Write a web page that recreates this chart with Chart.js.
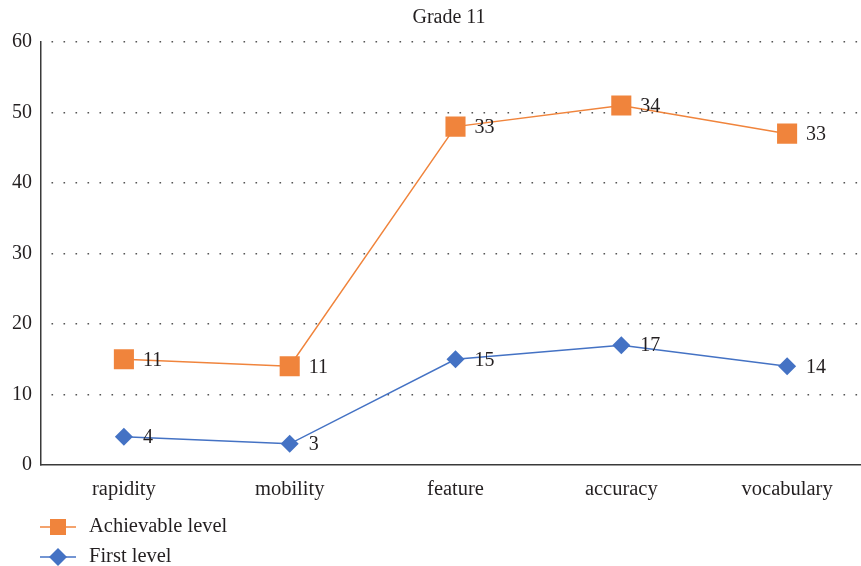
<!DOCTYPE html>
<html>
<head>
<meta charset="utf-8">
<script src="https://cdn.jsdelivr.net/npm/chart.js@4.4.1/dist/chart.umd.min.js"></script>
<style>
  html, body { margin: 0; padding: 0; background: #fff; overflow: hidden; }
  #wrap { width: 900px; height: 566px; position: relative; }
</style>
</head>
<body>
<div id="wrap"><canvas id="chart"></canvas></div>
<script>
// Grade 11 — skill scores per level (stacked line chart)
const chartTitle = 'Grade 11';
const categories = ['rapidity', 'mobility', 'feature', 'accuracy', 'vocabulary'];
const firstLevel = [4, 3, 15, 17, 14];
const achievableLevel = [11, 11, 33, 34, 33];
const yTicks = [0, 10, 20, 30, 40, 50, 60];

const ORANGE = '#F0843C';
const BLUE = '#4472C4';
const TEXT = '#231F20';
const FONT = '"Liberation Serif", "DejaVu Serif", serif';

// Value labels to the right of each marker
const valueLabels = {
  id: 'valueLabels',
  afterDatasetsDraw(chart) {
    const ctx = chart.ctx;
    ctx.save();
    ctx.font = '20px ' + FONT;
    ctx.fillStyle = TEXT;
    ctx.textAlign = 'left';
    ctx.textBaseline = 'middle';
    chart.data.datasets.forEach((ds, i) => {
      const meta = chart.getDatasetMeta(i);
      meta.data.forEach((pt, j) => {
        ctx.fillText(String(ds.data[j]), pt.x + 19, pt.y + 1);
      });
    });
    ctx.restore();
  }
};

// Title and vertical legend at the bottom-left
const decorations = {
  id: 'decorations',
  afterDraw(chart) {
    const ctx = chart.ctx;
    ctx.save();
    ctx.fillStyle = TEXT;
    ctx.font = '20px ' + FONT;
    ctx.textAlign = 'center';
    ctx.textBaseline = 'middle';
    ctx.fillText(chartTitle, 449, 18);

    const rows = [
      { label: 'Achievable level', color: ORANGE, shape: 'square', y: 527 },
      { label: 'First level', color: BLUE, shape: 'diamond', y: 557 }
    ];
    rows.forEach(r => {
      ctx.strokeStyle = r.color;
      ctx.lineWidth = 1.5;
      ctx.beginPath();
      ctx.moveTo(40, r.y);
      ctx.lineTo(76, r.y);
      ctx.stroke();
      ctx.fillStyle = r.color;
      ctx.beginPath();
      if (r.shape === 'square') {
        ctx.rect(50, r.y - 8, 16, 16);
      } else {
        ctx.moveTo(58, r.y - 9);
        ctx.lineTo(67, r.y);
        ctx.lineTo(58, r.y + 9);
        ctx.lineTo(49, r.y);
        ctx.closePath();
      }
      ctx.fill();
      ctx.fillStyle = TEXT;
      ctx.font = '20.5px ' + FONT;
      ctx.textAlign = 'left';
      ctx.fillText(r.label, 89, r.y);
    });
    ctx.restore();
  }
};

new Chart(document.getElementById('chart'), {
  type: 'line',
  data: {
    labels: categories,
    datasets: [
      {
        label: 'First level',
        data: firstLevel,
        borderColor: BLUE,
        backgroundColor: BLUE,
        borderWidth: 1.5,
        pointStyle: 'rectRot',
        pointRadius: 9,
        pointHoverRadius: 9,
        pointBorderWidth: 0,
        fill: false,
        tension: 0
      },
      {
        label: 'Achievable level',
        data: achievableLevel,
        borderColor: ORANGE,
        backgroundColor: ORANGE,
        borderWidth: 1.5,
        pointStyle: 'rect',
        pointRadius: 14.2,
        pointHoverRadius: 14.2,
        pointBorderWidth: 0,
        fill: false,
        tension: 0
      }
    ]
  },
  options: {
    responsive: true,
    maintainAspectRatio: false,
    animation: false,
    events: [],
    layout: { padding: { top: 42, bottom: 61, left: 0, right: 30 } },
    plugins: {
      legend: { display: false },
      title: { display: false },
      tooltip: { enabled: false }
    },
    scales: {
      x: {
        offset: true,
        grid: { display: false, drawTicks: false },
        border: { display: true, color: '#3a3a3a', width: 1.5 },
        ticks: { color: TEXT, font: { family: FONT, size: 20.5 }, padding: 12 },
        afterFit(s) { s.height = 40; }
      },
      y: {
        stacked: true,
        min: 0,
        max: 60,
        afterBuildTicks(s) { s.ticks = yTicks.map(v => ({ value: v })); },
        grid: {
          drawTicks: false,
          color: ctx => ctx.tick && ctx.tick.value === 0 ? 'rgba(0,0,0,0)' : '#555555',
          lineWidth: 1.6
        },
        // dotted grid lines; the axis line itself stays solid
        border: { display: true, color: '#3a3a3a', width: 1.5, dash: [1.6, 10.4], dashOffset: -10 },
        ticks: { color: TEXT, font: { family: FONT, size: 20 }, padding: 9 },
        afterFit(s) { s.width = 41; }
      }
    }
  },
  plugins: [valueLabels, decorations]
});
</script>
</body>
</html>
